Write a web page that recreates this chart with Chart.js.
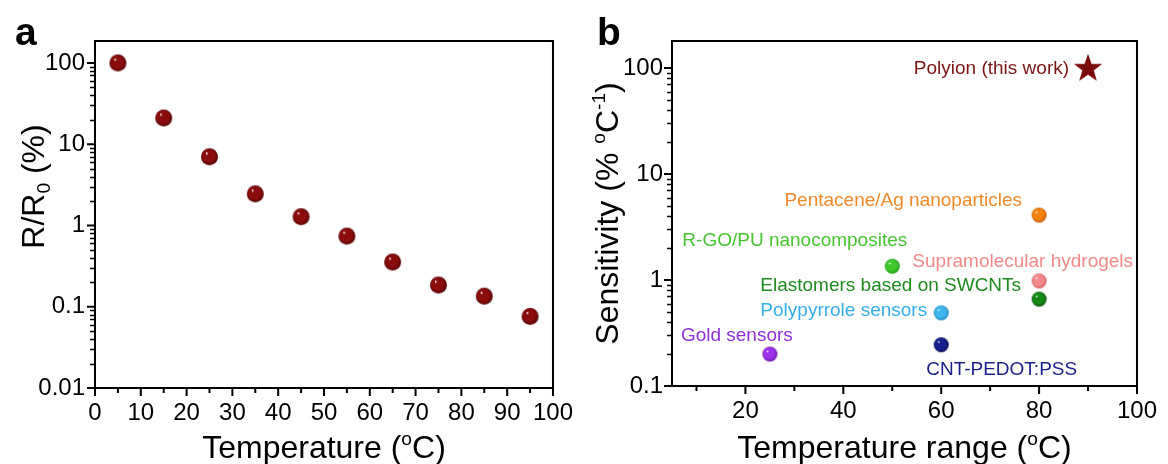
<!DOCTYPE html>
<html><head><meta charset="utf-8">
<script src="https://cdn.jsdelivr.net/npm/chart.js@4"></script>
<style>
html,body{margin:0;padding:0;background:#fff;}
#wrap{position:relative;width:1168px;height:464px;overflow:hidden;}
.panel{position:absolute;top:0;width:584px;height:464px;}
</style></head><body>
<div id="wrap">
<div class="panel" style="left:0"><canvas id="ca" width="584" height="464"></canvas></div>
<div class="panel" style="left:584px"><canvas id="cb" width="584" height="464"></canvas></div>
</div>
<script>
// ---------- data ----------
const temperatureA = [5, 15, 25, 35, 45, 55, 65, 75, 85, 95];
const resistanceRatioA = [100, 21, 7.0, 2.45, 1.28, 0.74, 0.355, 0.185, 0.135, 0.076];
const xTicksA = [0, 10, 20, 30, 40, 50, 60, 70, 80, 90, 100];
const yTicksA = [0.01, 0.1, 1, 10, 100];

const materialsB = ['Polyion (this work)', 'Pentacene/Ag nanoparticles', 'R-GO/PU nanocomposites',
  'Supramolecular hydrogels', 'Elastomers based on SWCNTs', 'Polypyrrole sensors', 'Gold sensors', 'CNT-PEDOT:PSS'];
const rangeB = [90, 80, 50, 80, 80, 60, 25, 60];
const sensitivityB = [102, 4.1, 1.35, 0.98, 0.66, 0.49, 0.2, 0.245];
const xTicksB = [20, 40, 60, 80, 100];
const yTicksB = [0.1, 1, 10, 100];

// ---------- styles ----------
const FONT = "'Liberation Sans', Arial, sans-serif";
const stylesB = [
  {base:'#7a0a0a', dark:'#4a0303', text:'#7a1414', star:true, align:'right', dx:-19, dy:2},
  {base:'#f5820f', dark:'#c05400', text:'#f08a2a', align:'right', dx:-17, dy:-14},
  {base:'#40c82c', dark:'#209618', text:'#48c432', align:'right', dx:15, dy:-25},
  {base:'#f28a8a', dark:'#d05e5e', text:'#f08888', align:'right', dx:94, dy:-19},
  {base:'#158a15', dark:'#0a540a', text:'#1f8a1f', align:'right', dx:-18, dy:-13},
  {base:'#3cb6ee', dark:'#1c82bc', text:'#34aee8', align:'right', dx:-14, dy:-2},
  {base:'#9c32ea', dark:'#6612ae', text:'#8f30d8', align:'left', dx:-89, dy:-18},
  {base:'#16208e', dark:'#080c56', text:'#1a1f8a', align:'left', dx:-15, dy:25}
];

function sphere(base, dark, r) {
  const s = Math.ceil(2 * r + 2);
  const c = document.createElement('canvas');
  c.width = c.height = s;
  const g = c.getContext('2d');
  const cx = s / 2;
  const grad = g.createRadialGradient(cx - r * 0.35, cx - r * 0.42, r * 0.04, cx, cx, r);
  grad.addColorStop(0, '#ffffff');
  grad.addColorStop(0.14, base);
  grad.addColorStop(0.7, base);
  grad.addColorStop(1, dark);
  g.fillStyle = grad;
  g.beginPath(); g.arc(cx, cx, r, 0, Math.PI * 2); g.fill();
  return c;
}
function starImg(color, R) {
  const s = Math.ceil(2 * R + 2);
  const c = document.createElement('canvas');
  c.width = c.height = s;
  const g = c.getContext('2d');
  const cx = s / 2, cy = s / 2 + R * 0.1;
  g.fillStyle = color;
  g.beginPath();
  for (let i = 0; i < 10; i++) {
    const rr = i % 2 === 0 ? R : R * 0.4;
    const a = -Math.PI / 2 + i * Math.PI / 5;
    const x = cx + rr * Math.cos(a), y = cy + rr * Math.sin(a);
    i === 0 ? g.moveTo(x, y) : g.lineTo(x, y);
  }
  g.closePath(); g.fill();
  return c;
}

function drawRich(ctx, parts, x, y, size, rot) {
  ctx.save();
  ctx.translate(x, y);
  ctx.rotate(rot);
  ctx.fillStyle = '#000';
  ctx.textBaseline = 'alphabetic';
  ctx.textAlign = 'left';
  let total = 0;
  const small = size * 0.6;
  parts.forEach(p => {
    ctx.font = ((p.sup || p.sub) ? small : size) + 'px ' + FONT;
    p.w = ctx.measureText(p.t).width;
    total += p.w;
  });
  let cx = -total / 2;
  const base = size * 0.36;
  parts.forEach(p => {
    ctx.font = ((p.sup || p.sub) ? small : size) + 'px ' + FONT;
    let dy = 0;
    if (p.sup) dy = -size * 0.4;
    if (p.sub) dy = size * 0.2;
    ctx.fillText(p.t, cx, base + dy);
    cx += p.w;
  });
  ctx.restore();
}

// frame + tick marks drawn from the library's scales
function frameTicks(minorX) {
  return {
    id: 'frameTicks',
    afterDraw(chart) {
      const ctx = chart.ctx, a = chart.chartArea;
      const xs = chart.scales.x, ys = chart.scales.y;
      ctx.save();
      ctx.strokeStyle = '#000';
      ctx.lineWidth = 2;
      ctx.strokeRect(a.left, a.top, a.right - a.left, a.bottom - a.top);
      ctx.beginPath();
      xs.ticks.forEach(t => { const p = xs.getPixelForValue(t.value); ctx.moveTo(p, a.bottom); ctx.lineTo(p, a.bottom + 8); });
      minorX.forEach(v => { if (v >= xs.min && v <= xs.max) { const p = xs.getPixelForValue(v); ctx.moveTo(p, a.bottom); ctx.lineTo(p, a.bottom + 5); } });
      ys.ticks.forEach(t => { const p = ys.getPixelForValue(t.value); ctx.moveTo(a.left, p); ctx.lineTo(a.left - 8, p); });
      ctx.stroke();
      ctx.lineWidth = 1.5;
      ctx.beginPath();
      for (let e = Math.floor(Math.log10(ys.min)); e <= Math.ceil(Math.log10(ys.max)); e++) {
        for (let k = 2; k <= 9; k++) {
          const v = k * Math.pow(10, e);
          if (v > ys.min && v < ys.max) { const p = Math.round(ys.getPixelForValue(v)) + 0.5; ctx.moveTo(a.left, p); ctx.lineTo(a.left - 5, p); }
        }
      }
      ctx.stroke();
      ctx.restore();
    }
  };
}

function titles(letter, letterX, xParts, yParts, yTitleX, yTitleShift) {
  return {
    id: 'titles',
    afterDraw(chart) {
      const ctx = chart.ctx, a = chart.chartArea;
      ctx.save();
      ctx.fillStyle = '#000';
      ctx.font = 'bold 39px ' + FONT;
      ctx.textBaseline = 'alphabetic';
      ctx.textAlign = 'left';
      ctx.fillText(letter, letterX, 45);
      ctx.restore();
      drawRich(ctx, xParts, (a.left + a.right) / 2, 446, 32, 0);
      drawRich(ctx, yParts, yTitleX, (a.top + a.bottom) / 2 + yTitleShift, 32, -Math.PI / 2);
    }
  };
}

const pointLabels = {
  id: 'pointLabels',
  afterDatasetsDraw(chart) {
    const ctx = chart.ctx;
    const meta = chart.getDatasetMeta(0);
    ctx.save();
    ctx.font = '19px ' + FONT;
    ctx.textBaseline = 'middle';
    meta.data.forEach((pt, i) => {
      const st = stylesB[i];
      ctx.fillStyle = st.text;
      ctx.textAlign = st.align;
      ctx.fillText(materialsB[i], pt.x + st.dx, pt.y + st.dy);
    });
    ctx.restore();
  }
};

Chart.defaults.font.family = FONT;
Chart.defaults.color = '#000';

const tickFont = {size: 24, family: FONT};

// ---------- chart a ----------
const sphereA = sphere('#8a0c0c', '#520404', 8.5);
new Chart(document.getElementById('ca'), {
  type: 'scatter',
  data: {
    datasets: [{
      data: temperatureA.map((t, i) => ({x: t, y: resistanceRatioA[i]})),
      pointStyle: sphereA,
      pointRadius: 8,
      pointHoverRadius: 8
    }]
  },
  options: {
    responsive: false,
    animation: false,
    events: [],
    layout: {padding: {left: 0, top: 41, right: 20, bottom: 0}},
    plugins: {legend: {display: false}, tooltip: {enabled: false}},
    scales: {
      x: {
        type: 'linear', min: 0, max: 100,
        afterBuildTicks: s => { s.ticks = xTicksA.map(v => ({value: v})); },
        afterFit: s => { s.height = 464 - 388; },
        grid: {display: false, drawTicks: false}, border: {display: false},
        ticks: {font: tickFont, padding: 11, maxRotation: 0, autoSkip: false, color: '#000'}
      },
      y: {
        type: 'logarithmic', min: 0.01, max: 186,
        afterBuildTicks: s => { s.ticks = yTicksA.map(v => ({value: v})); },
        afterFit: s => { s.width = 95; },
        grid: {display: false, drawTicks: false}, border: {display: false},
        ticks: {font: tickFont, padding: 10, color: '#000', callback: v => String(v)}
      }
    }
  },
  plugins: [frameTicks([5, 15, 25, 35, 45, 55, 65, 75, 85, 95]),
    titles('a', 15, [{t: 'Temperature ('}, {t: 'o', sup: true}, {t: 'C)'}],
      [{t: 'R/R'}, {t: '0', sub: true}, {t: ' (%)'}], 32, -28)]
});

// ---------- chart b ----------
const markersB = stylesB.map(s => s.star ? starImg(s.base, 15) : sphere(s.base, s.dark, 7.5));
new Chart(document.getElementById('cb'), {
  type: 'scatter',
  data: {
    datasets: [{
      data: rangeB.map((r, i) => ({x: r, y: sensitivityB[i]})),
      pointStyle: markersB,
      pointRadius: 8,
      pointHoverRadius: 8
    }]
  },
  options: {
    responsive: false,
    animation: false,
    events: [],
    layout: {padding: {left: 0, top: 41, right: 27, bottom: 0}},
    plugins: {legend: {display: false}, tooltip: {enabled: false}},
    scales: {
      x: {
        type: 'linear', min: 5, max: 100,
        afterBuildTicks: s => { s.ticks = xTicksB.map(v => ({value: v})); },
        afterFit: s => { s.height = 464 - 386; },
        grid: {display: false, drawTicks: false}, border: {display: false},
        ticks: {font: tickFont, padding: 11, maxRotation: 0, autoSkip: false, color: '#000'}
      },
      y: {
        type: 'logarithmic', min: 0.1, max: 180,
        afterBuildTicks: s => { s.ticks = yTicksB.map(v => ({value: v})); },
        afterFit: s => { s.width = 88; },
        grid: {display: false, drawTicks: false}, border: {display: false},
        ticks: {font: tickFont, padding: 9, color: '#000', callback: v => String(v)}
      }
    }
  },
  plugins: [frameTicks([10, 30, 50, 70, 90]), pointLabels,
    titles('b', 13, [{t: 'Temperature range ('}, {t: 'o', sup: true}, {t: 'C)'}],
      [{t: 'Sensitivity (% '}, {t: 'o', sup: true}, {t: 'C'}, {t: '-1', sup: true}, {t: ')'}], 22, 0)]
});
</script>
</body></html>
